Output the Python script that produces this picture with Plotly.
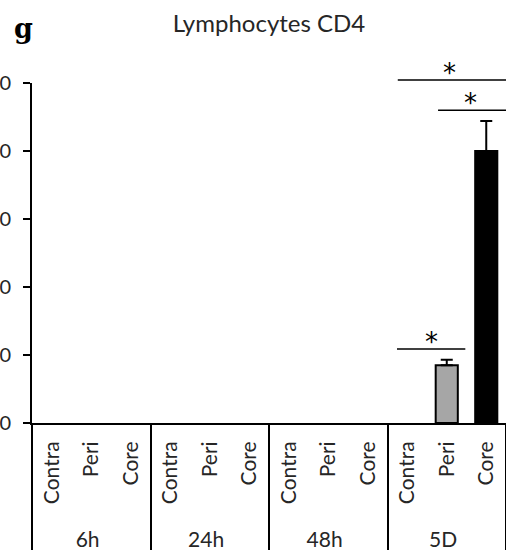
import plotly.graph_objects as go

groups = ["6h", "24h", "48h", "5D"]
sites = ["Contra", "Peri", "Core"]
values = [0, 0, 0, 0, 0, 0, 0, 0, 0, 0, 8.5, 40]
errors = [0, 0, 0, 0, 0, 0, 0, 0, 0, 0, 0.8, 4.4]
site_colors = {"Contra": "#ffffff", "Peri": "#a6a6a6", "Core": "#000000"}
y_ticks = [0, 10, 20, 30, 40, 50]

outer = [g for g in groups for _ in sites]
# leading non-breaking spaces only enlarge the rotated label box (pushes group labels down)
inner = ["\u00a0\u00a0" + s for _ in groups for s in sites]
colors = [site_colors[s] for _ in groups for s in sites]
line_widths = [2 if v > 0 else 0 for v in values]

FONT = "Lato"
TXT = "#262626"

fig = go.Figure()
fig.add_trace(go.Bar(
    x=[outer, inner], y=values,
    marker=dict(color=colors, line=dict(color="black", width=line_widths)),
    showlegend=False, hoverinfo="skip",
))

# error bars only where an error value exists
idx = [i for i, e in enumerate(errors) if e > 0]
fig.add_trace(go.Scatter(
    x=[[outer[i] for i in idx], [inner[i] for i in idx]],
    y=[values[i] for i in idx], mode="markers",
    marker=dict(size=0.1, opacity=0),
    error_y=dict(type="data", array=[errors[i] for i in idx], symmetric=False,
                 arrayminus=[0] * len(idx), visible=True,
                 color="black", thickness=2, width=6),
    showlegend=False, hoverinfo="skip",
))

# significance brackets (x in category index units, y in paper units)
brackets = [
    (8.76, 11.6, 1.009),
    (9.78, 11.6, 0.920),
    (8.74, 10.47, 0.218),
]
for x0, x1, yp in brackets:
    fig.add_shape(type="line", xref="x", yref="paper", x0=x0, x1=x1, y0=yp, y1=yp,
                  line=dict(color="black", width=1.5))
for x0, x1, yp in brackets:
    fig.add_annotation(xref="x", yref="paper", x=(x0 + min(x1, 11.4)) / 2, y=yp,
                       text="*", showarrow=False, yanchor="bottom", yshift=-10,
                       font=dict(family="DejaVu Sans", size=26, color="black"))

fig.add_annotation(xref="paper", yref="paper", x=0.0, y=1.0, xshift=-9, yshift=55,
                   text="<b>g</b>", showarrow=False, xanchor="center", yanchor="middle",
                   font=dict(family="DejaVu Serif", size=27, color="black"))

fig.update_layout(
    template="none",
    width=506, height=550,
    margin=dict(l=32, r=0, t=83, b=127, autoexpand=False),
    paper_bgcolor="white", plot_bgcolor="white",
    bargap=0.44,
    title=dict(text="Lymphocytes CD4", x=0.5, xref="paper", xanchor="center",
               y=1 - 15 / 550, yref="container", yanchor="top",
               font=dict(family=FONT, size=24, color=TXT)),
    font=dict(family=FONT, color=TXT),
    hovermode=False,
)
fig.update_xaxes(
    type="multicategory", automargin=False, range=[-0.5, 11.5],
    showline=True, linecolor="black", linewidth=2,
    showgrid=False, zeroline=False, ticks="", tickangle=-90,
    ticklabelstandoff=8,
    showdividers=True, dividercolor="black", dividerwidth=2,
    tickfont=dict(family=FONT, size=21, color=TXT),
)
fig.update_yaxes(
    automargin=False,
    range=[0, 50], tickvals=y_ticks, ticktext=[str(v) for v in y_ticks],
    showline=True, linecolor="black", linewidth=2,
    ticks="outside", ticklen=7, tickwidth=2, tickcolor="black",
    showgrid=False, zeroline=False, ticklabelstandoff=8,
    tickfont=dict(family=FONT, size=20, color=TXT),
)

fig.write_html("out.html", config={"displayModeBar": False},
               post_script="document.body.style.margin='0';")
